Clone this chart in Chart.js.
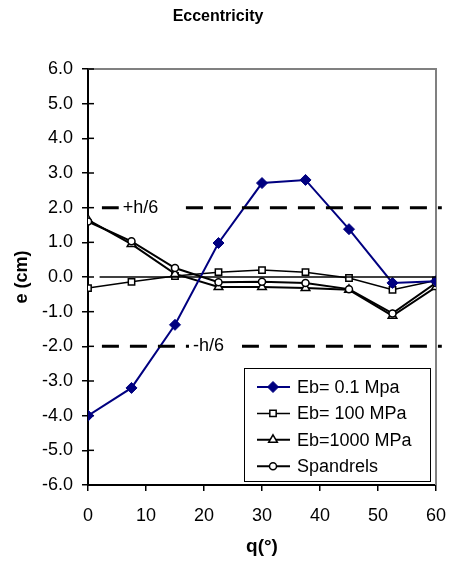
<!DOCTYPE html>
<html>
<head>
<meta charset="utf-8">
<title>Eccentricity</title>
<script src="https://cdn.jsdelivr.net/npm/chart.js@4/dist/chart.umd.min.js"></script>
<style>
  html, body { margin: 0; padding: 0; background: #fff; }
  canvas { display: block; }
</style>
</head>
<body>
<canvas id="eccChart" width="450" height="566"></canvas>
<script>
// ========== data ==========
const angles = [0, 7.5, 15, 22.5, 30, 37.5, 45, 52.5, 60];
const eb01 = [-4.0, -3.2, -1.38, 0.98, 2.71, 2.8, 1.38, -0.17, -0.12];
const eb100 = [-0.32, -0.14, 0.03, 0.14, 0.2, 0.14, -0.03, -0.37, -0.1];
const eb1000 = [1.65, 0.95, 0.09, -0.29, -0.29, -0.32, -0.37, -1.12, -0.29];
const spandrels = [1.6, 1.03, 0.26, -0.15, -0.14, -0.17, -0.35, -1.05, -0.17];

// h/6 limit lines and the zero line
const limitX = [2.4, 61];
const upperLimit = [2, 2];
const lowerLimit = [-2, -2];
const zeroX = [2, 60];
const zeroY = [0, 0];

const seriesNames = ['Eb= 0.1 Mpa', 'Eb= 100 MPa', 'Eb=1000 MPa', 'Spandrels'];
const limitLabels = [
  { text: '+h/6', x: 6.0, y: 2 },
  { text: '-h/6', x: 18.1, y: -2 }
];

const FONT = '"Liberation Sans", Arial, sans-serif';

function pts(xs, ys) {
  return xs.map((x, i) => ({ x: x, y: ys[i] }));
}

// ========== plugins ==========
// gray top/right frame + inner half of the y ticks
const frame = {
  id: 'frame',
  beforeDatasetsDraw(chart) {
    const { ctx, chartArea: a, scales } = chart;
    ctx.save();
    ctx.strokeStyle = '#808080';
    ctx.lineWidth = 2;
    ctx.beginPath();
    ctx.moveTo(a.left, a.top);
    ctx.lineTo(a.right, a.top);
    ctx.lineTo(a.right, a.bottom);
    ctx.stroke();

    ctx.strokeStyle = '#000';
    ctx.lineWidth = 1.5;
    scales.y.ticks.forEach(t => {
      const py = scales.y.getPixelForValue(t.value);
      ctx.beginPath();
      ctx.moveTo(a.left, py);
      ctx.lineTo(a.left + 6, py);
      ctx.stroke();
    });
    ctx.restore();
  }
};

// "+h/6" / "-h/6" labels sitting in a gap of the dashed lines
const limitText = {
  id: 'limitText',
  afterDatasetsDraw(chart) {
    const { ctx, scales } = chart;
    ctx.save();
    ctx.font = '18px ' + FONT;
    ctx.textBaseline = 'middle';
    limitLabels.forEach(l => {
      const px = scales.x.getPixelForValue(l.x);
      const py = scales.y.getPixelForValue(l.y);
      const w = ctx.measureText(l.text).width;
      ctx.fillStyle = '#fff';
      ctx.fillRect(px - 4, py - 3, w + 22, 6);
      ctx.fillStyle = '#000';
      ctx.fillText(l.text, px, py);
    });
    ctx.restore();
  }
};

// boxed legend inside the plot, bottom right
const legendBox = {
  id: 'legendBox',
  afterDraw(chart) {
    const { ctx, chartArea: a } = chart;
    const items = chart.data.datasets
      .filter(d => d.inLegend)
      .sort((p, q) => seriesNames.indexOf(p.label) - seriesNames.indexOf(q.label));
    const left = a.right - 192, top = a.bottom - 117;
    const w = 186, h = 113, rowH = 26.4;
    ctx.save();
    ctx.fillStyle = '#fff';
    ctx.fillRect(left, top, w, h);
    ctx.strokeStyle = '#000';
    ctx.lineWidth = 1;
    ctx.strokeRect(left + 0.5, top + 0.5, w, h);

    items.forEach((d, i) => {
      const cy = top + 19 + i * rowH;
      ctx.strokeStyle = d.borderColor;
      ctx.lineWidth = d.borderWidth;
      ctx.beginPath();
      ctx.moveTo(left + 13, cy);
      ctx.lineTo(left + 46, cy);
      ctx.stroke();

      ctx.fillStyle = d.pointBackgroundColor;
      ctx.strokeStyle = d.pointBorderColor;
      ctx.lineWidth = d.pointBorderWidth;
      Chart.helpers.drawPoint(ctx, {
        pointStyle: d.pointStyle,
        radius: d.pointRadius,
        borderWidth: d.pointBorderWidth,
        rotation: 0
      }, left + 29, cy);

      ctx.fillStyle = '#000';
      ctx.font = '18px ' + FONT;
      ctx.textBaseline = 'middle';
      ctx.fillText(d.label, left + 53, cy + 1);
    });
    ctx.restore();
  }
};

// ========== chart ==========
const ctx = document.getElementById('eccChart').getContext('2d');

const eccChart = new Chart(ctx, {
  type: 'line',
  data: {
    datasets: [
      {
        label: 'h/6 upper', data: pts(limitX, upperLimit),
        borderColor: '#000', borderWidth: 3, borderDash: [17, 11],
        pointRadius: 0, clip: false
      },
      {
        label: 'h/6 lower', data: pts(limitX, lowerLimit),
        borderColor: '#000', borderWidth: 3, borderDash: [17, 11],
        pointRadius: 0, clip: false
      },
      {
        label: 'zero', data: pts(zeroX, zeroY),
        borderColor: '#000', borderWidth: 1.3, pointRadius: 0
      },
      {
        label: seriesNames[1], inLegend: true, data: pts(angles, eb100),
        borderColor: '#000', borderWidth: 1.5,
        pointStyle: 'rect', pointRadius: 4.5,
        pointBackgroundColor: '#fff', pointBorderColor: '#000', pointBorderWidth: 1.5,
        order: 3
      },
      {
        label: seriesNames[2], inLegend: true, data: pts(angles, eb1000),
        borderColor: '#000', borderWidth: 2,
        pointStyle: 'triangle', pointRadius: 5,
        pointBackgroundColor: '#fff', pointBorderColor: '#000', pointBorderWidth: 1.5,
        order: 2
      },
      {
        label: seriesNames[3], inLegend: true, data: pts(angles, spandrels),
        borderColor: '#000', borderWidth: 2,
        pointStyle: 'circle', pointRadius: 3.5,
        pointBackgroundColor: '#fff', pointBorderColor: '#000', pointBorderWidth: 1.5,
        order: 1
      },
      {
        label: seriesNames[0], inLegend: true, data: pts(angles, eb01),
        borderColor: '#000080', borderWidth: 2,
        pointStyle: 'rectRot', pointRadius: 5.5,
        pointBackgroundColor: '#000080', pointBorderColor: '#000080', pointBorderWidth: 1,
        order: 0
      }
    ]
  },
  options: {
    responsive: false,
    animation: false,
    events: [],
    layout: { padding: { left: 0, right: 14, top: 0, bottom: 0 } },
    plugins: {
      legend: { display: false },
      tooltip: { enabled: false },
      title: {
        display: true,
        text: 'Eccentricity',
        color: '#000',
        font: { family: FONT, size: 16, weight: 'bold' },
        padding: { top: 7.4, bottom: 42.4 }
      }
    },
    scales: {
      x: {
        type: 'linear',
        min: 0, max: 60,
        afterFit: s => { s.height = 81; s.paddingLeft = 0; s.paddingRight = 0; },
        ticks: {
          stepSize: 10, color: '#000', padding: 14,
          font: { family: FONT, size: 18 }
        },
        grid: { drawOnChartArea: false, tickLength: 6, color: '#000', lineWidth: 1.5 },
        border: { color: '#000', width: 2 },
        title: {
          display: true, text: 'q(°)', color: '#000',
          font: { family: FONT, size: 19, weight: 'bold' },
          padding: 8
        }
      },
      y: {
        min: -6, max: 6,
        afterFit: s => { s.width = 88; },
        ticks: {
          stepSize: 1, color: '#000', padding: 9,
          font: { family: FONT, size: 18 },
          callback: v => v.toFixed(1)
        },
        grid: { drawOnChartArea: false, tickLength: 6, color: '#000', lineWidth: 1.5 },
        border: { color: '#000', width: 2 },
        title: {
          display: true, text: 'e (cm)', color: '#000',
          font: { family: FONT, size: 18, weight: 'bold' },
          padding: 11
        }
      }
    }
  },
  plugins: [frame, limitText, legendBox]
});
</script>
</body>
</html>
